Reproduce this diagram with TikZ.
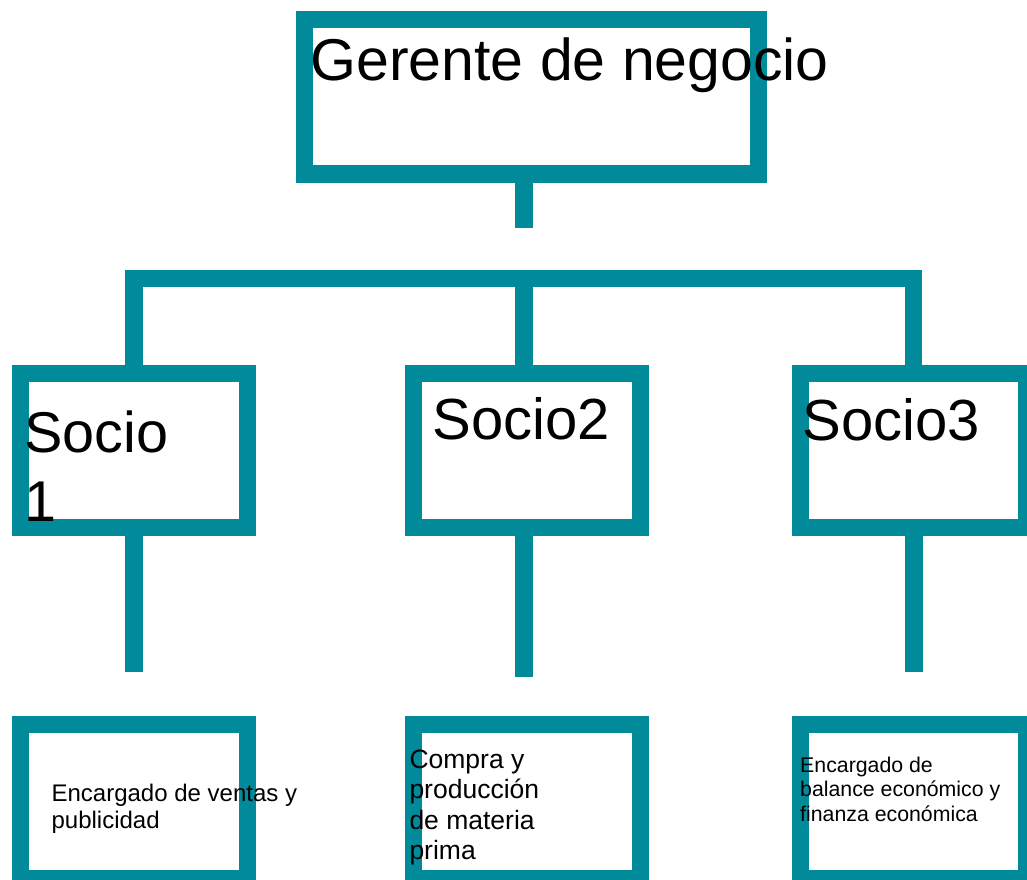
\documentclass[tikz,border=0pt]{standalone}
\usepackage{fontspec}
\setmainfont{Liberation Sans}
\definecolor{tealLine}{RGB}{0,138,154}
\begin{document}
\begin{tikzpicture}[x=1pt, y=-1pt,
	orgBox/.style={rectangle, draw=tealLine, line width=17.5pt, minimum width=226.8pt, minimum height=154.4pt, inner sep=0pt},
	link/.style={draw=tealLine, line width=17.5pt},
	boxText/.style={anchor=base west, inner sep=0pt, align=left}]
\useasboundingbox (0,0) rectangle (1027,879);

	\node[orgBox, minimum width=454.2pt](gerenteBox) at (531.6,96.9){};

	\node[orgBox](socio1Box) at (133.9,450.5){};
	\node[orgBox](socio2Box) at (527.1,450.5){};
	\node[orgBox](socio3Box) at (913.7,450.5){};

	\node[orgBox](tarea1Box) at (133.9,801.5){};
	\node[orgBox](tarea2Box) at (527.1,801.5){};
	\node[orgBox](tarea3Box) at (913.7,801.5){};

	\coordinate(gerenteStem) at (524,227.7);
	\draw[link] (gerenteStem |- gerenteBox.south) -- (gerenteStem);

	\coordinate(barMid) at (524,278.7);
	\draw[link] (socio1Box.north) |- (barMid) -| (socio3Box.north);
	\draw[link] (barMid) -- (barMid |- socio2Box.north);

	\coordinate(tarea1Stem) at (134,671.7);
	\draw[link] (tarea1Stem |- socio1Box.south) -- (tarea1Stem);

	\coordinate(tarea2Stem) at (524,677.3);
	\draw[link] (tarea2Stem |- socio2Box.south) -- (tarea2Stem);

	\coordinate(tarea3Stem) at (914,671.7);
	\draw[link] (tarea3Stem |- socio3Box.south) -- (tarea3Stem);

	% base anchor sits on the last line
	\node[boxText, font=\fontsize{59}{68}\selectfont](gerenteLabel) at (310.3,80){Gerente de negocio};
	\node[boxText, font=\fontsize{57.5}{69}\selectfont](socio1Label) at (24,521.7){Socio\\1};
	\node[boxText, font=\fontsize{58}{67}\selectfont](socio2Label) at (432.3,439.3){Socio2};
	\node[boxText, font=\fontsize{58}{67}\selectfont](socio3Label) at (802.3,440.7){Socio3};

	\node[boxText, font=\fontsize{24}{27.3}\selectfont](tarea1Label) at (51.4,828.3){Encargado de ventas y\\publicidad};
	\node[boxText, font=\fontsize{26.5}{30.5}\selectfont](tarea2Label) at (409.3,859.8){Compra y\\producción\\de materia\\prima};
	\node[boxText, font=\fontsize{21.3}{24.5}\selectfont](tarea3Label) at (800,821.3){Encargado de\\balance económico y\\finanza económica};
\end{tikzpicture}
\end{document}
